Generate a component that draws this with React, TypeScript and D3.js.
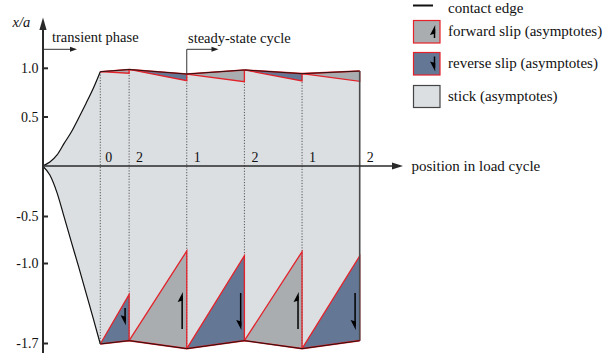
import React from "react";
import * as d3 from "d3";

// ---------- data ----------
// position in load cycle: t = 0 origin, t = 1 end of transient phase
const phaseT = [1, 1.5, 2.5, 3.5, 4.5, 5.5];
const phaseLabels = ["0", "2", "1", "2", "1", "2"];
// contact edges (x/a) at each phase point
const topEdge = [0.965, 0.988, 0.941, 0.983, 0.945, 0.972];
const bottomEdge = [-1.704, -1.675, -1.745, -1.675, -1.745, -1.675];
// slip-zone asymptote ends at the end of each half cycle
const topSlipEnd = [0.949, 0.873, 0.862, 0.87, 0.866];
const bottomSlipEnd = [-1.27, -0.867, -0.917, -0.874, -0.92];
const topSlipType = ["forward", "reverse", "forward", "reverse", "forward"];
const bottomSlipType = ["reverse", "forward", "reverse", "forward", "reverse"];
// transient phase contact edges
const transientT = [0, 0.125, 0.25, 0.375, 0.5, 0.625, 0.75, 0.875, 1];
const transientTop = [0, 0.04, 0.113, 0.233, 0.35, 0.49, 0.637, 0.79, 0.965];
const transientBottom = [0, -0.09, -0.266, -0.51, -0.775, -1.03, -1.253, -1.476, -1.704];
// slip direction arrows (bottom zones)
const arrowT = [1.43, 2.42, 3.435, 4.43, 5.42];
const arrowTail = [-1.39, -1.573, -1.258, -1.573, -1.258];
const arrowHead = [-1.54, -1.25, -1.582, -1.25, -1.582];
// y ticks
const yTicks = [1.0, 0.5, -0.5, -1.0, -1.7];
const yTickLabels = ["1.0", "0.5", "-0.5", "-1.0", "-1.7"];
// legend
const legendLabels = ["contact edge", "forward slip (asymptotes)", "reverse slip (asymptotes)", "stick (asymptotes)"];

const COLORS = {
  stick: "#dcdfe2",
  forward: "#a9adb0",
  reverse: "#647896",
  red: "#e3222a",
  edge: "#111",
  axis: "#2a2a2a",
};

const FONT = "Liberation Serif, DejaVu Serif, serif";
const TS: React.CSSProperties = { fontFamily: FONT };

function Harpoon({ x, yTail, yHead }: { x: number; yTail: number; yHead: number }) {
  const dir = yTail > yHead ? 1 : -1;
  return (
    <g>
      <line x1={x} x2={x} y1={yTail} y2={yHead + dir * 4} stroke="#000" strokeWidth={1.5} />
      <polygon
        points={`${x + 0.7},${yHead} ${x - 4.5},${yHead + dir * 10} ${x + 0.7},${yHead + dir * 8.5}`}
        fill="#000"
      />
    </g>
  );
}

export default function App() {
  const W = 603;
  const H = 358;
  const x = d3.scaleLinear().domain([0, 5.5]).range([42.65, 359.7]);
  const y = d3
    .scaleLinear()
    .domain([-1.7, -1, -0.5, 0, 0.5, 1])
    .range([343.5, 263.5, 216.5, 166, 117, 68.3]);

  const transientIdx = transientT.map((_, i) => i);
  const transArea = d3
    .area<number>()
    .x((i) => x(transientT[i]))
    .y0((i) => y(transientBottom[i]))
    .y1((i) => y(transientTop[i]))
    .curve(d3.curveMonotoneX)(transientIdx) as string;
  const steadyIdx = phaseT.map((_, i) => i);
  const steadyArea = d3
    .area<number>()
    .x((i) => x(phaseT[i]))
    .y0((i) => y(bottomEdge[i]))
    .y1((i) => y(topEdge[i]))(steadyIdx) as string;

  const transTopLine = d3
    .line<number>()
    .x((i) => x(transientT[i]))
    .y((i) => y(transientTop[i]))
    .curve(d3.curveMonotoneX)(transientIdx) as string;
  const transBotLine = d3
    .line<number>()
    .x((i) => x(transientT[i]))
    .y((i) => y(transientBottom[i]))
    .curve(d3.curveMonotoneX)(transientIdx) as string;
  const steadyTopLine = d3
    .line<number>()
    .x((i) => x(phaseT[i]))
    .y((i) => y(topEdge[i]))(steadyIdx) as string;
  const steadyBotLine = d3
    .line<number>()
    .x((i) => x(phaseT[i]))
    .y((i) => y(bottomEdge[i]))(steadyIdx) as string;

  const pl = d3.line<[number, number]>().x((d) => x(d[0])).y((d) => y(d[1]));

  const segments = phaseT.slice(0, -1).map((ta, i) => {
    const tb = phaseT[i + 1];
    return {
      topPoly: pl([
        [ta, topEdge[i]],
        [tb, topEdge[i + 1]],
        [tb, topSlipEnd[i]],
      ]) + "Z",
      topRed: pl([
        [ta, topEdge[i]],
        [tb, topSlipEnd[i]],
        [tb, topEdge[i + 1]],
      ]) as string,
      botPoly: pl([
        [ta, bottomEdge[i]],
        [tb, bottomSlipEnd[i]],
        [tb, bottomEdge[i + 1]],
      ]) + "Z",
      botRed: pl([
        [ta, bottomEdge[i]],
        [tb, bottomSlipEnd[i]],
        [tb, bottomEdge[i + 1]],
      ]) as string,
      topFill: topSlipType[i] === "forward" ? COLORS.forward : COLORS.reverse,
      botFill: bottomSlipType[i] === "forward" ? COLORS.forward : COLORS.reverse,
    };
  });

  const y0 = y(0);
  const axisX = x(0) + 0.35;
  const lastT = phaseT[phaseT.length - 1];
  const ssX = x(phaseT[2]);

  return (
    <svg
      width={W}
      height={H}
      viewBox={`0 0 ${W} ${H}`}
      style={{ position: "absolute", left: 0, top: 0, background: "#fff", fontFamily: FONT }}
    >
      {/* stick region */}
      <path d={transArea} fill={COLORS.stick} stroke={COLORS.stick} strokeWidth={0.6} />
      <path d={steadyArea} fill={COLORS.stick} stroke={COLORS.stick} strokeWidth={0.6} />

      {/* slip zones */}
      {segments.map((s, i) => (
        <g key={"s" + i}>
          <path d={s.topPoly} fill={s.topFill} />
          <path d={s.botPoly} fill={s.botFill} />
        </g>
      ))}

      {/* dotted phase lines */}
      {phaseT.slice(0, -1).map((t, i) => (
        <line
          key={"d" + i}
          x1={x(t)}
          x2={x(t)}
          y1={y(topEdge[i])}
          y2={y(bottomEdge[i])}
          stroke="#555"
          strokeWidth={1}
          strokeDasharray="1.2 1.6"
        />
      ))}

      {/* red asymptote lines */}
      {segments.map((s, i) => (
        <g key={"r" + i} fill="none" stroke={COLORS.red} strokeWidth={1.3}>
          <path d={s.topRed} />
          <path d={s.botRed} />
        </g>
      ))}

      {/* right edge */}
      <line
        x1={x(lastT)}
        x2={x(lastT)}
        y1={y(topEdge[5])}
        y2={y(bottomEdge[5])}
        stroke="#4a4a4a"
        strokeWidth={1.6}
      />

      {/* contact edges */}
      <path d={transTopLine} fill="none" stroke={COLORS.edge} strokeWidth={1.2} />
      <path d={transBotLine} fill="none" stroke={COLORS.edge} strokeWidth={1.2} />
      <path d={steadyTopLine} fill="none" stroke={COLORS.red} strokeWidth={1.6} />
      <path d={steadyBotLine} fill="none" stroke={COLORS.red} strokeWidth={1.6} />
      <path d={steadyTopLine} fill="none" stroke="#2a1010" strokeWidth={1} />
      <path d={steadyBotLine} fill="none" stroke="#2a1010" strokeWidth={1} />

      {/* slip arrows */}
      {arrowT.map((t, i) => (
        <Harpoon key={"a" + i} x={x(t)} yTail={y(arrowTail[i])} yHead={y(arrowHead[i])} />
      ))}

      {/* x axis */}
      <line x1={axisX} x2={395} y1={y0} y2={y0} stroke={COLORS.axis} strokeWidth={1.5} />
      <polygon points={`403,${y0} 392,${y0 - 3.6} 392,${y0 + 3.6}`} fill={COLORS.axis} />
      <text x={411.5} y={y0 + 4.5} fontSize={15} fill="#111" style={TS}>
        position in load cycle
      </text>

      {/* phase labels */}
      {phaseT.map((t, i) => (
        <text key={"p" + i} x={x(t) + (i === 0 ? 5 : 7)} y={161.5} fontSize={14} fill="#111" style={TS}>
          {phaseLabels[i]}
        </text>
      ))}

      {/* y axis */}
      <line x1={axisX} x2={axisX} y1={353} y2={27} stroke={COLORS.axis} strokeWidth={2} />
      <polygon
        points={`${axisX},17.5 ${axisX - 3.6},30 ${axisX + 3.6},30`}
        fill={COLORS.axis}
      />
      {yTicks.map((v, i) => (
        <g key={"t" + i}>
          <line x1={axisX} x2={axisX + 5} y1={y(v)} y2={y(v)} stroke={COLORS.axis} strokeWidth={2} />
          <text x={38.5} y={y(v) + 4.7} fontSize={14} textAnchor="end" fill="#111" style={TS}>
            {yTickLabels[i]}
          </text>
        </g>
      ))}
      <text x={12.5} y={27} fontSize={14.5} fontStyle="italic" fill="#111" style={TS}>
        x/a
      </text>

      {/* transient phase annotation */}
      <text x={52} y={42} fontSize={14.5} fill="#111" style={TS}>
        transient phase
      </text>
      <line x1={axisX} x2={71} y1={49.3} y2={49.3} stroke="#333" strokeWidth={1} />
      <polygon points="77,49.3 70,46.8 70,51.8" fill="#222" />

      {/* steady-state annotation */}
      <text x={188} y={42.5} fontSize={14.5} fill="#111" style={TS}>
        steady-state cycle
      </text>
      <polyline
        points={`${ssX},${y(topEdge[2])} ${ssX},49.3 212,49.3`}
        fill="none"
        stroke="#333"
        strokeWidth={1}
      />
      <polygon points="218.5,49.3 211.5,46.8 211.5,51.8" fill="#222" />

      {/* legend */}
      <line x1={413} x2={433} y1={5.5} y2={5.5} stroke="#111" strokeWidth={2} />
      <text x={448} y={12.5} fontSize={15} fill="#111" style={TS}>
        {legendLabels[0]}
      </text>
      <rect x={413.5} y={20.5} width={26.5} height={22.5} fill={COLORS.forward} stroke={COLORS.red} strokeWidth={1.2} />
      <Harpoon x={434.5} yTail={38} yHead={25} />
      <text x={448} y={36} fontSize={15} fill="#111" style={TS}>
        {legendLabels[1]}
      </text>
      <rect x={413.5} y={52.5} width={26.5} height={22.5} fill={COLORS.reverse} stroke={COLORS.red} strokeWidth={1.2} />
      <Harpoon x={434.5} yTail={56.5} yHead={71.5} />
      <text x={448} y={68} fontSize={15} fill="#111" style={TS}>
        {legendLabels[2]}
      </text>
      <rect x={413.5} y={85.5} width={26.5} height={22} fill={COLORS.stick} stroke="#444" strokeWidth={1.2} />
      <text x={448} y={101} fontSize={15} fill="#111" style={TS}>
        {legendLabels[3]}
      </text>
    </svg>
  );
}
